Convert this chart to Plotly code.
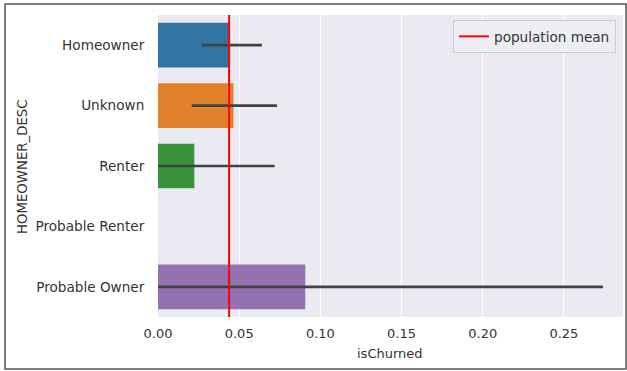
import plotly.graph_objects as go

categories = ["Homeowner", "Unknown", "Renter", "Probable Renter", "Probable Owner"]
churn_rate = [0.0444, 0.0465, 0.0224, None, 0.0907]
ci_low = [0.027, 0.0208, 0.0, None, 0.0]
ci_high = [0.064, 0.0733, 0.0718, None, 0.274]
bar_colors = ["#3274A1", "#E1812C", "#3A923A", "#C03D3E", "#9372B2"]
population_mean = 0.0438
x_ticks = [0.0, 0.05, 0.10, 0.15, 0.20, 0.25]

err_plus = [None if v is None else h - v for v, h in zip(churn_rate, ci_high)]
err_minus = [None if v is None else v - l for v, l in zip(churn_rate, ci_low)]

FONT = "DejaVu Sans"
TXT = "#333333"

fig = go.Figure()
fig.add_trace(go.Bar(
    y=categories, x=churn_rate, orientation="h", width=0.74,
    marker=dict(color=bar_colors, line=dict(width=0)),
    error_x=dict(type="data", array=err_plus, arrayminus=err_minus,
                 color="#424242", thickness=2.7, width=0, symmetric=False),
    showlegend=False, hoverinfo="skip",
))
fig.add_trace(go.Scatter(
    x=[population_mean, population_mean], y=[0, 1], yaxis="y2",
    mode="lines", line=dict(color="red", width=2),
    name="population mean",
))

W, H = 627, 371
L, R, T, B = 158, 4, 15, 54
pw, ph = W - L - R, H - T - B

def px(x):
    return (x - L) / pw

def py(y):
    return 1 - (y - T) / ph

fig.update_layout(
    width=W, height=H,
    margin=dict(l=L, r=R, t=T, b=B, pad=0),
    paper_bgcolor="white", plot_bgcolor="#EAEAF2",
    font=dict(family=FONT, size=13, color=TXT),
    xaxis=dict(range=[0, 0.2864], tickvals=x_ticks, tickformat=".2f",
               showgrid=True, gridcolor="white", gridwidth=1.2,
               zeroline=False, showline=False, ticks="outside", ticklen=4,
               tickcolor="rgba(0,0,0,0)", tickfont=dict(size=13, color=TXT)),
    yaxis=dict(categoryorder="array", categoryarray=categories,
               autorange="reversed", range=[4.5, -0.5],
               showgrid=False, zeroline=False, showline=False,
               ticks="outside", ticklen=10, tickcolor="rgba(0,0,0,0)",
               tickfont=dict(size=13.6, color=TXT)),
    yaxis2=dict(overlaying="y", range=[0, 1], visible=False, fixedrange=True),
    legend=dict(x=px(616), xanchor="right", y=py(20), yanchor="top",
                bgcolor="#EDEDF4", bordercolor="#CCCCCC", borderwidth=1,
                font=dict(size=13.6, color=TXT)),
    annotations=[
        dict(text="isChurned", xref="paper", yref="paper", x=px(390), y=py(353),
             xanchor="center", yanchor="middle", showarrow=False,
             font=dict(size=13, color=TXT)),
        dict(text="HOMEOWNER_DESC", xref="paper", yref="paper", x=px(22), y=py(167),
             xanchor="center", yanchor="middle", textangle=-90, showarrow=False,
             font=dict(size=13.3, color=TXT)),
    ],
    shapes=[
        dict(type="rect", xref="paper", yref="paper",
             x0=px(5), x1=px(626), y0=py(369), y1=py(4),
             line=dict(color="#555555", width=1.5), fillcolor="rgba(0,0,0,0)", layer="below"),
    ],
)

fig.write_html("out.html")
